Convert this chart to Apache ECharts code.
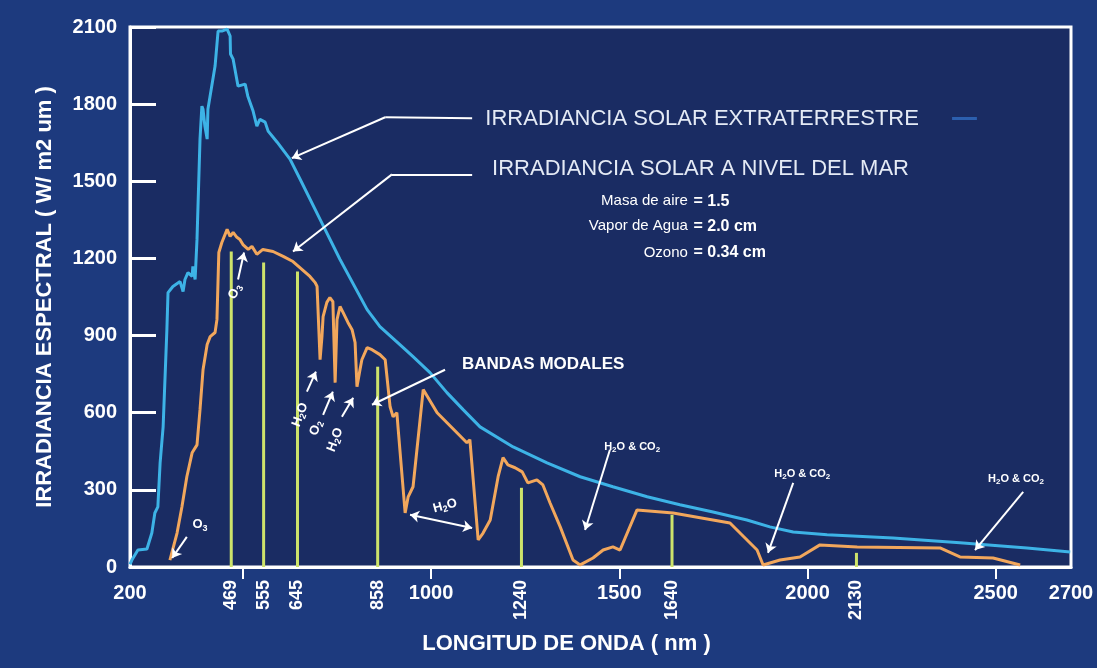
<!DOCTYPE html>
<html>
<head>
<meta charset="utf-8">
<script src="https://cdn.jsdelivr.net/npm/echarts@6/dist/echarts.min.js"></script>
<style>
  html, body { margin: 0; padding: 0; background: #1d3a7e; }
  #chart { width: 1097px; height: 668px; }
</style>
</head>
<body>
<div id="chart"></div>
<script>
// extraterrestrial spectrum (nm, W/m2 um)
const extWavelength = [200, 205, 221, 245, 258, 266, 274, 280, 288, 298, 301, 314, 333, 341, 346, 354, 365, 367, 373, 378,
  386, 391, 394, 399, 405, 407, 426, 434, 444, 458, 466, 467, 474, 487, 506, 513, 527, 537, 545, 559,
  567, 591, 625, 652, 705, 758, 830, 864, 917, 952, 997, 1042, 1085, 1130, 1218, 1308, 1396, 1483,
  1574, 1661, 1749, 1839, 1900, 1962, 2052, 2227, 2405, 2583, 2698];
const extIrradiance = [10, 27, 66, 70, 132, 210, 234, 405, 545, 923, 1067, 1091, 1110, 1071, 1118, 1145, 1130, 1169, 1118, 1274,
  1664, 1792, 1780, 1714, 1664, 1780, 1948, 2084, 2084, 2092, 2065, 1995, 1975, 1870, 1878, 1831, 1773, 1714, 1741, 1730,
  1695, 1652, 1586, 1508, 1352, 1196, 1001, 935, 865, 818, 756, 678, 612, 545, 467, 405, 351, 312,
  273, 242, 214, 183, 156, 136, 125, 113, 94, 74, 58];

// sea level spectrum
const seaWavelength = [306, 325, 338, 351, 365, 378, 386, 394, 405, 413, 426, 431, 436, 444, 458, 466, 474, 484, 492, 500,
  514, 524, 537, 553, 580, 607, 633, 678, 692, 697, 705, 710, 713, 723, 731, 739, 745, 750, 758, 766,
  779, 790, 798, 803, 811, 816, 830, 843, 864, 878, 891, 899, 909, 912, 931, 939, 952, 979, 1016, 1095,
  1103, 1125, 1138, 1157, 1178, 1191, 1204, 1223, 1242, 1257, 1281, 1297, 1316, 1343, 1377, 1396, 1430, 1457, 1483, 1502,
  1547, 1643, 1794, 1866, 1882, 1927, 1980, 2033, 2132, 2352, 2405, 2493, 2565];
const seaIrradiance = [27, 132, 234, 351, 444, 475, 612, 767, 865, 896, 912, 962, 1223, 1262, 1313, 1286, 1301, 1282, 1274, 1254,
  1235, 1247, 1216, 1235, 1227, 1208, 1188, 1130, 1106, 1091, 806, 896, 974, 1029, 1048, 1032, 717, 962, 1013, 990,
  951, 923, 873, 701, 767, 806, 853, 845, 826, 806, 623, 584, 600, 545, 210, 273, 312, 690, 600, 483,
  495, 105, 132, 183, 351, 425, 397, 386, 370, 327, 339, 319, 249, 156, 27, 8, 35, 66, 78, 66,
  222, 210, 171, 66, 8, 27, 39, 86, 78, 74, 39, 35, 8];

// bandas modales
const bandWavelength = [469, 555, 645, 858, 1240, 1640, 2130];
const bandHeight = [1227, 1184, 1149, 779, 308, 203, 55];

const xTickValues = [500, 1000, 1500, 2000, 2500];
const xLabelValues = [200, 1000, 1500, 2000, 2500, 2700];

// annotation arrows, in data coords (last segment gets the arrow head)
const calloutPaths = [
  [[1109, 1745], [878, 1749], [630, 1590]],
  [[1109, 1527], [896, 1527], [633, 1227]],
  [[1037, 767], [843, 631]],
  [[351, 117], [312, 35]],
  [[487, 1118], [503, 1223]],
  [[670, 682], [694, 760]],
  [[713, 592], [739, 682]],
  [[763, 584], [793, 658]],
  [[1475, 456], [1409, 144]],
  [[1962, 327], [1895, 55]],
  [[2573, 292], [2445, 66]]
];
const doubleArrow = [[944, 203], [1109, 152]];

const notes = [
  { text: 'IRRADIANCIA SOLAR EXTRATERRESTRE', at: [1144, 1741], size: 22, bold: false, align: 'left' },
  { text: 'IRRADIANCIA SOLAR A NIVEL DEL MAR', at: [1162, 1547], size: 22, bold: false, align: 'left' },
  { text: 'Masa de aire', at: [1682, 1422], size: 15, bold: false, align: 'right' },
  { text: '= 1.5', at: [1697, 1422], size: 16, bold: true, align: 'left' },
  { text: 'Vapor de Agua', at: [1682, 1325], size: 15, bold: false, align: 'right' },
  { text: '= 2.0 cm', at: [1697, 1325], size: 16, bold: true, align: 'left' },
  { text: 'Ozono', at: [1682, 1223], size: 15, bold: false, align: 'right' },
  { text: '= 0.34 cm', at: [1697, 1223], size: 16, bold: true, align: 'left' },
  { text: 'BANDAS MODALES', at: [1082, 787], size: 17, bold: true, align: 'left' },
  { text: 'O{s|3}', at: [386, 164], size: 13, bold: true, align: 'center' },
  { text: 'O{s|3}', at: [479, 1071], size: 13, bold: true, align: 'center', rotate: 65 },
  { text: 'H{s|2}O', at: [652, 592], size: 13, bold: true, align: 'center', rotate: 70 },
  { text: 'O{s|2}', at: [694, 541], size: 13, bold: true, align: 'center', rotate: 70 },
  { text: 'H{s|2}O', at: [745, 495], size: 13, bold: true, align: 'center', rotate: 70 },
  { text: 'H{s|2}O', at: [1037, 238], size: 13, bold: true, align: 'center', rotate: 15 },
  { text: 'H{s|2}O & CO{s|2}', at: [1534, 468], size: 11, bold: true, align: 'center' },
  { text: 'H{s|2}O & CO{s|2}', at: [1986, 362], size: 11, bold: true, align: 'center' },
  { text: 'H{s|2}O & CO{s|2}', at: [2554, 343], size: 11, bold: true, align: 'center' }
];

const zip = (xs, ys) => xs.map((x, i) => [x, ys[i]]);
const font = '"Liberation Sans", Arial, sans-serif';
const plain = (v) => String(v);

const lineData = [];
calloutPaths.forEach((path) => {
  for (let i = 0; i < path.length - 1; i++) {
    const last = i === path.length - 2;
    lineData.push([
      { coord: path[i], symbol: 'none' },
      { coord: path[i + 1], symbol: last ? 'arrow' : 'none' }
    ]);
  }
});
lineData.push([
  { coord: doubleArrow[0], symbol: 'arrow' },
  { coord: doubleArrow[1], symbol: 'arrow' }
]);
// faint blue stub after the first legend text
lineData.push([
  { coord: [2384, 1745], symbol: 'none', lineStyle: { color: '#2c5fae', width: 3 } },
  { coord: [2450, 1745], symbol: 'none' }
]);

const pointData = notes.map((n) => ({
  coord: n.at,
  label: {
    show: true,
    position: 'inside',
    formatter: n.text,
    align: n.align,
    verticalAlign: 'middle',
    rotate: n.rotate || 0,
    color: n.size >= 20 ? '#e4eaf5' : '#ffffff',
    fontFamily: font,
    fontSize: n.size,
    fontWeight: n.bold ? 'bold' : 'normal',
    rich: {
      s: { fontSize: Math.round(n.size * 0.7), fontWeight: 'bold', color: '#ffffff', padding: [Math.round(n.size * 0.5), 0, 0, 0] }
    }
  }
}));

const chart = echarts.init(document.getElementById('chart'));
const option = {
  backgroundColor: '#1d3a7e',
  animation: false,
  grid: {
    left: 130, right: 26, top: 27, bottom: 101,
    show: true, borderColor: '#ffffff', borderWidth: 3, backgroundColor: '#1a2c63'
  },
  xAxis: [
    {
      type: 'value', min: 200, max: 2700, position: 'bottom',
      name: 'LONGITUD DE ONDA ( nm )', nameLocation: 'middle', nameGap: 66,
      nameTextStyle: { color: '#ffffff', fontSize: 22, fontWeight: 'bold', fontFamily: font, padding: [0, 68, 0, 0] },
      axisLine: { lineStyle: { color: '#ffffff', width: 3 } },
      axisTick: { customValues: xTickValues, length: 12, lineStyle: { color: '#ffffff', width: 2 } },
      axisLabel: { customValues: xLabelValues, formatter: plain, color: '#ffffff', fontSize: 20, fontWeight: 'bold', fontFamily: font, margin: 16 },
      splitLine: { show: false }
    },
    {
      type: 'value', min: 200, max: 2700, position: 'bottom',
      axisLine: { show: false },
      axisTick: { show: false },
      axisLabel: { customValues: bandWavelength, formatter: plain, rotate: 90, color: '#ffffff', fontSize: 18, fontWeight: 'bold', fontFamily: font, margin: 13 },
      splitLine: { show: false }
    }
  ],
  yAxis: {
    type: 'value', min: 0, max: 2100, interval: 300,
    name: 'IRRADIANCIA ESPECTRAL ( W/ m2 um )', nameLocation: 'middle', nameGap: 74,
    nameTextStyle: { color: '#ffffff', fontSize: 22, fontWeight: 'bold', fontFamily: font },
    axisLine: { show: true, lineStyle: { color: '#ffffff', width: 3 } },
    axisTick: { show: true, inside: true, length: 26, lineStyle: { color: '#ffffff', width: 3 } },
    axisLabel: { formatter: plain, color: '#ffffff', fontSize: 20, fontWeight: 'bold', fontFamily: font, margin: 13 },
    splitLine: { show: false }
  },
  series: [
    {
      name: 'Bandas', type: 'bar', barWidth: 3,
      itemStyle: { color: '#cde36b' },
      data: zip(bandWavelength, bandHeight)
    },
    {
      name: 'Extraterrestre', type: 'line', symbol: 'none',
      lineStyle: { color: '#3db3e6', width: 3 },
      data: zip(extWavelength, extIrradiance)
    },
    {
      name: 'Nivel del mar', type: 'line', symbol: 'none',
      lineStyle: { color: '#f2a75c', width: 3 },
      data: zip(seaWavelength, seaIrradiance)
    },
    {
      name: 'notas', type: 'line', data: [],
      markLine: {
        silent: true, symbolSize: 9,
        lineStyle: { color: '#ffffff', width: 2, type: 'solid' },
        label: { show: false },
        data: lineData
      },
      markPoint: {
        silent: true, symbol: 'circle', symbolSize: 0,
        data: pointData
      }
    }
  ]
};
chart.setOption(option);
</script>
</body>
</html>
